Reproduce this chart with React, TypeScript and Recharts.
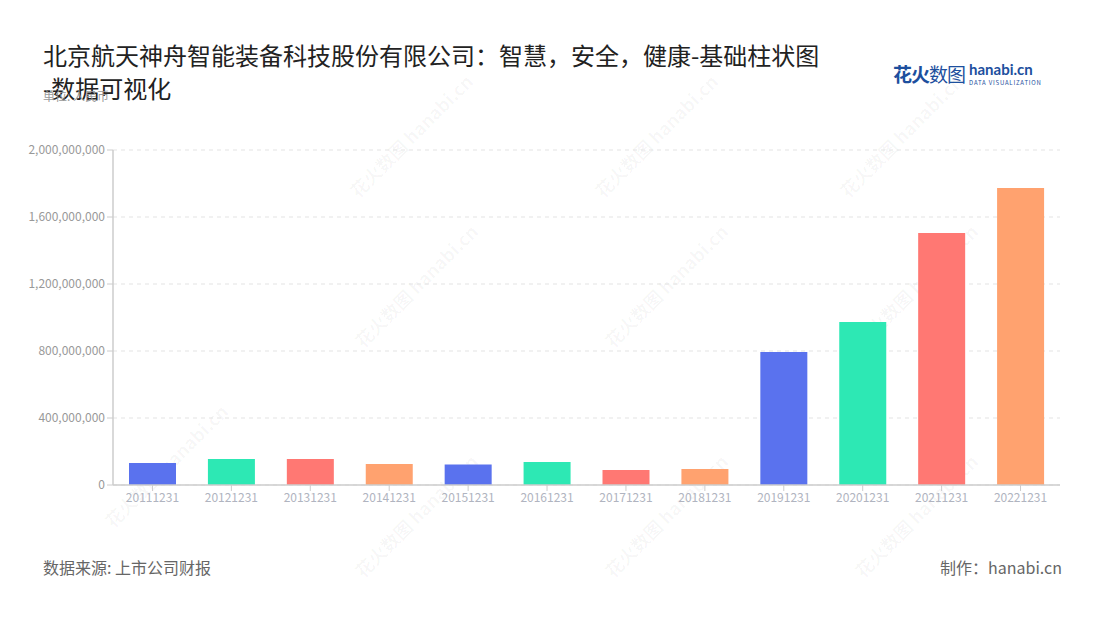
import { BarChart, Bar, XAxis, YAxis, CartesianGrid, Cell } from 'recharts';

const periods = [
  '20111231', '20121231', '20131231', '20141231', '20151231', '20161231',
  '20171231', '20181231', '20191231', '20201231', '20211231', '20221231',
];
const revenue = [
  131000000, 155000000, 155000000, 125000000, 123000000, 137000000,
  90000000, 95000000, 794000000, 973000000, 1504000000, 1773000000,
];
const yTicks = [0, 400000000, 800000000, 1200000000, 1600000000, 2000000000];
const palette = ['#5a72ee', '#2de8b4', '#ff7873', '#ffa26f'];

const data = periods.map((p, i) => ({ period: p, value: revenue[i] }));

const font = '"Noto Sans CJK SC", "Noto Sans", sans-serif';

const marks = [
  [395, 150], [640, 150], [885, 150],
  [150, 480], [400, 300], [650, 300], [900, 300],
  [400, 530], [650, 530], [900, 530],
];

function Watermarks() {
  return (
    <>
      {marks.map(([x, y], i) => (
        <div
          key={i}
          style={{
            position: 'absolute',
            left: x - 60,
            top: y - 12,
            width: 120,
            transform: 'rotate(-45deg)',
            color: 'rgba(0,0,0,0.035)',
            fontSize: 18,
            fontWeight: 700,
            whiteSpace: 'nowrap',
            pointerEvents: 'none',
          }}
        >
          花火数图 hanabi.cn
        </div>
      ))}
    </>
  );
}

export default function App() {
  return (
    <div style={{ position: 'fixed', left: 0, top: 0, width: 1100, height: 620, background: '#fff', fontFamily: font, overflow: 'hidden' }}>
      <Watermarks />
      <div style={{ position: 'absolute', left: 43, top: 38, fontSize: 24, lineHeight: '33px', color: '#222' }}>
        北京航天神舟智能装备科技股份有限公司：智慧，安全，健康-基础柱状图
        <br />
        -数据可视化
      </div>
      <div style={{ position: 'absolute', left: 43, top: 87, fontSize: 12, color: '#999' }}>单位: 人民币</div>
      <div style={{ position: 'absolute', left: 893, top: 60, display: 'flex', alignItems: 'center' }}>
        <span style={{ fontSize: 19, fontWeight: 700, color: '#1d4f9e', letterSpacing: -1 }}>花火</span>
        <span style={{ fontSize: 19, color: '#1d4f9e', letterSpacing: -1 }}>数图</span>
        <div style={{ marginLeft: 4, display: 'flex', flexDirection: 'column' }}>
          <span style={{ fontSize: 15, lineHeight: '15px', fontWeight: 700, color: '#1d4f9e', fontFamily: 'Lato, sans-serif' }}>hanabi.cn</span>
          <span style={{ fontSize: 6, lineHeight: '7px', marginTop: 2, color: '#1d4f9e', letterSpacing: 0.8 }}>DATA VISUALIZATION</span>
        </div>
      </div>
      <div style={{ position: 'absolute', left: 0, top: 0 }}>
        <BarChart width={1100} height={620} data={data} margin={{ top: 150, right: 40, bottom: 105, left: 33 }}>
          <CartesianGrid vertical={false} strokeDasharray="4 4" stroke="#e3e3e3" />
          <XAxis
            dataKey="period"
            height={30}
            tick={{ fill: '#b0b4c0', fontSize: 12, fontFamily: font }}
            tickLine={{ stroke: '#ccc' }}
            axisLine={{ stroke: '#ccc', strokeWidth: 1.5 }}
            interval={0}
          />
          <YAxis
            width={80}
            domain={[0, 2000000000]}
            ticks={yTicks}
            tick={{ fill: '#999', fontSize: 12, fontFamily: font }}
            tickLine={{ stroke: '#ccc' }}
            axisLine={{ stroke: '#ccc', strokeWidth: 1.5 }}
            tickFormatter={(v) => v.toLocaleString('en-US')}
          />
          <Bar dataKey="value" barSize={47} isAnimationActive={false}>
            {data.map((_, i) => (
              <Cell key={i} fill={palette[i % palette.length]} />
            ))}
          </Bar>
        </BarChart>
      </div>
      <div style={{ position: 'absolute', left: 43, top: 555, fontSize: 16, color: '#666' }}>数据来源: 上市公司财报</div>
      <div style={{ position: 'absolute', right: 38, top: 555, fontSize: 16, color: '#666' }}>制作：hanabi.cn</div>
    </div>
  );
}
